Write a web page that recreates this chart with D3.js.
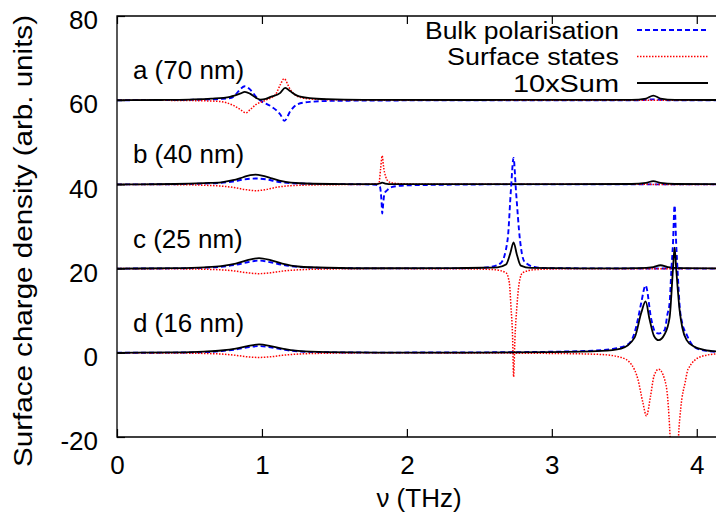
<!DOCTYPE html>
<html>
<head>
    <title>Surface charge density spectra</title>
    <script src="https://d3js.org/d3.v7.min.js"></script>
    <style>
        body {
            margin: 0;
            background: #fff;
        }
        svg text {
            font-family: "Liberation Sans", Arial, Helvetica, sans-serif;
            fill: #000;
        }
        .curve {
            fill: none;
        }
    </style>
</head>
<body>
    <div id="chart"></div>

    <script>
        // ---- data (values relative to each panel's offset) ----
        const panelLabels = ["a (70 nm)", "b (40 nm)", "c (25 nm)", "d (16 nm)"];
        const panelOffsets = [60, 40, 20, 0];
        const seriesNames = ["Bulk polarisation", "Surface states", "10xSum"];
        const xTicks = [0, 1, 2, 3, 4];
        const yTicks = [-20, 0, 20, 40, 60, 80];

        const bulk70 = [[0,0],[0.4,0.05],[0.6,0.15],[0.71,0.3],[0.79,0.55],[0.82,1.4],[0.853,2.7],[0.882,3.3],[0.92,2.5],[0.96,0.8],[0.99,-0.1],[1.06,-1.4],[1.127,-3.4],[1.155,-4.9],[1.196,-2.6],[1.243,-1.0],[1.33,-0.4],[1.5,-0.15],[2.0,-0.05],[3.6,0],[3.7,0.2],[3.8,0],[4.15,0]];
        const surface70 = [[0,0],[0.4,-0.05],[0.6,-0.15],[0.71,-0.3],[0.8,-1.2],[0.85,-2.2],[0.889,-3.0],[0.92,-2.2],[0.96,-1.0],[1.02,-0.1],[1.093,1.35],[1.127,3.7],[1.152,5.1],[1.196,2.5],[1.243,0.95],[1.33,0.3],[1.5,0.1],[2.0,0],[4.15,0]];
        const sum70 = [[0,0],[0.3,0.05],[0.5,0.15],[0.65,0.35],[0.78,0.8],[0.853,1.6],[0.882,2.0],[0.92,1.5],[0.96,0.55],[0.99,0.16],[1.026,0.3],[1.06,0.8],[1.127,1.74],[1.16,2.93],[1.196,2.1],[1.243,1.1],[1.33,0.5],[1.45,0.24],[1.7,0.1],[2.5,0.05],[3.55,0.1],[3.65,0.4],[3.7,1.1],[3.75,0.4],[3.85,0.1],[4.15,0.05]];

        const bulk40 = [[0,0],[0.4,0.05],[0.6,0.2],[0.72,0.4],[0.8,0.7],[0.88,1.2],[0.956,1.4],[1.03,1.2],[1.1,0.7],[1.2,0.3],[1.4,0.1],[1.7,0.02],[1.79,-0.1],[1.814,-0.6],[1.825,-4.0],[1.83,-6.9],[1.838,-4.0],[1.846,-2.1],[1.865,-1.35],[1.9,-0.6],[1.98,-0.25],[2.2,-0.1],[2.6,0],[4.15,0]];
        const surface40 = [[0,0],[0.4,-0.05],[0.6,-0.2],[0.72,-0.4],[0.8,-0.7],[0.88,-1.2],[0.956,-1.5],[1.03,-1.2],[1.1,-0.7],[1.2,-0.3],[1.4,-0.1],[1.7,0],[1.807,0.2],[1.818,3.5],[1.83,6.8],[1.838,4.5],[1.846,2.8],[1.876,0.6],[1.93,0.2],[2.1,0.05],[4.15,0]];
        const sum40 = [[0,0],[0.4,0.1],[0.6,0.3],[0.72,0.5],[0.8,1.0],[0.87,1.7],[0.92,2.2],[0.956,2.3],[1.0,2.1],[1.06,1.5],[1.12,0.9],[1.2,0.4],[1.35,0.15],[1.6,0.05],[1.79,0.05],[1.82,0.3],[1.83,0.4],[1.85,0.2],[1.9,0.05],[2.5,0.05],[3.55,0.1],[3.65,0.35],[3.7,0.8],[3.75,0.35],[3.85,0.1],[4.15,0.05]];

        const bulk25 = [[0,0],[0.4,0.05],[0.6,0.2],[0.72,0.45],[0.82,0.9],[0.9,1.5],[0.98,1.9],[1.06,1.5],[1.14,0.9],[1.25,0.4],[1.45,0.15],[1.8,0.05],[2.3,0.05],[2.487,0.15],[2.58,0.4],[2.649,1.35],[2.695,6.9],[2.718,18.8],[2.736,26.3],[2.752,18.8],[2.78,6.9],[2.81,1.7],[2.879,0.4],[2.97,0.1],[3.3,0.05],[4.15,0]];
        const surface25 = [[0,0],[0.4,-0.05],[0.6,-0.15],[0.72,-0.3],[0.82,-0.6],[0.9,-1.0],[0.98,-1.2],[1.06,-1.0],[1.14,-0.6],[1.25,-0.3],[1.45,-0.1],[1.8,0],[2.4,-0.05],[2.603,-0.25],[2.684,-1.0],[2.707,-3.4],[2.718,-9],[2.73,-17],[2.736,-25.7],[2.745,-17],[2.759,-9],[2.775,-3.4],[2.798,-1.0],[2.879,-0.25],[3.1,-0.05],[4.15,0]];
        const sum25 = [[0,0],[0.4,0.1],[0.6,0.3],[0.72,0.6],[0.82,1.2],[0.9,2.0],[0.98,2.5],[1.06,2.0],[1.14,1.2],[1.25,0.5],[1.45,0.2],[1.8,0.08],[2.3,0.1],[2.526,0.2],[2.626,0.3],[2.684,0.95],[2.714,3.7],[2.736,6.25],[2.759,3.3],[2.786,0.7],[2.855,0.15],[3.2,0.05],[3.6,0.1],[3.7,0.35],[3.75,0.8],[3.8,0.35],[3.9,0.1],[4.15,0.05]];

        const bulk16 = [[0,0],[0.4,0.05],[0.6,0.15],[0.72,0.4],[0.82,0.8],[0.9,1.3],[0.98,1.6],[1.06,1.3],[1.14,0.8],[1.25,0.35],[1.45,0.12],[1.8,0.05],[2.5,0.1],[3.0,0.25],[3.34,0.6],[3.43,1.0],[3.525,2.0],[3.571,4.8],[3.594,8.0],[3.617,11.9],[3.647,16.0],[3.686,8.0],[3.709,5.2],[3.737,4.6],[3.778,5.4],[3.797,9],[3.813,12],[3.825,19.8],[3.836,26],[3.847,35],[3.858,26],[3.87,18],[3.882,11.1],[3.9,7],[3.928,4.5],[3.97,1.8],[4.02,0.8],[4.15,0.2]];
        const surface16 = [[0,0],[0.4,-0.05],[0.6,-0.15],[0.72,-0.3],[0.82,-0.6],[0.9,-0.95],[0.98,-1.1],[1.06,-0.95],[1.14,-0.6],[1.25,-0.3],[1.45,-0.1],[1.8,0],[2.5,-0.05],[3.0,-0.15],[3.34,-0.4],[3.478,-1.1],[3.55,-2.8],[3.594,-6.3],[3.628,-11.8],[3.653,-15],[3.681,-10.3],[3.705,-5.5],[3.737,-3.9],[3.778,-6.3],[3.80,-11],[3.816,-20],[3.83,-32],[3.845,-40],[3.86,-32],[3.874,-20],[3.89,-13],[3.92,-7],[3.94,-3.9],[4.03,-0.9],[4.15,-0.2]];
        const sum16 = [[0,0],[0.4,0.1],[0.6,0.3],[0.72,0.55],[0.82,1.0],[0.9,1.6],[0.98,2.0],[1.06,1.6],[1.14,1.0],[1.25,0.45],[1.45,0.15],[1.8,0.05],[2.5,0.05],[3.0,0.15],[3.34,0.45],[3.478,1.0],[3.571,3.6],[3.617,9.5],[3.647,12.2],[3.674,8.0],[3.705,4.0],[3.737,3.0],[3.778,4.4],[3.813,8.5],[3.836,20],[3.847,25],[3.858,20],[3.882,10],[3.9,6],[3.93,3],[3.98,1.5],[4.05,0.7],[4.15,0.3]];

        const bulkSeries = [bulk70, bulk40, bulk25, bulk16];
        const surfaceSeries = [surface70, surface40, surface25, surface16];
        const sumSeries = [sum70, sum40, sum25, sum16];

        // ---- layout ----
        const W = 716, H = 522;
        const margin = { top: 16, right: -2, bottom: 85, left: 117 },
              width = W - margin.left - margin.right,
              height = H - margin.top - margin.bottom;

        const svg = d3.select("#chart")
                      .append("svg")
                      .attr("width", W)
                      .attr("height", H);

        svg.append("rect").attr("width", W).attr("height", H).attr("fill", "#fff");

        const g = svg.append("g")
                     .attr("transform", `translate(${margin.left},${margin.top})`);

        const x = d3.scaleLinear().domain([0, 4.1465]).range([0, width]);
        const y = d3.scaleLinear().domain([-20, 80]).range([height, 0]);

        const styles = [
            { color: "#0000ff", width: 1.9, dash: "5,3" },
            { color: "#ff0000", width: 1.5, dash: "1.5,1.5" },
            { color: "#000000", width: 1.8, dash: null }
        ];

        g.append("clipPath").attr("id", "clip")
         .append("rect").attr("width", width).attr("height", height);

        const plot = g.append("g").attr("clip-path", "url(#clip)");

        panelOffsets.forEach((off, i) => {
            const line = d3.line()
                           .x(d => x(d[0]))
                           .y(d => y(off + d[1]))
                           .curve(d3.curveMonotoneX);
            [bulkSeries[i], surfaceSeries[i], sumSeries[i]].forEach((s, k) => {
                plot.append("path")
                    .attr("class", "curve")
                    .attr("d", line(s))
                    .attr("stroke", styles[k].color)
                    .attr("stroke-width", styles[k].width)
                    .attr("stroke-dasharray", styles[k].dash);
            });
            g.append("text")
             .attr("x", x(0.11))
             .attr("y", y(off + 5))
             .style("font-size", "26px")
             .text(panelLabels[i]);
        });

        // axes with inward ticks, plain hyphen minus in labels
        const plain = d => String(d);

        const yAxis = g.append("g")
                       .call(d3.axisLeft(y).tickValues(yTicks).tickFormat(plain)
                               .tickSizeInner(-8).tickSizeOuter(0).tickPadding(19));
        yAxis.selectAll("text").attr("dy", "0.49em").style("font-size", "26px");

        const xAxis = g.append("g")
                       .attr("transform", `translate(0,${height})`)
                       .call(d3.axisBottom(x).tickValues(xTicks).tickFormat(plain)
                               .tickSizeInner(-8).tickSizeOuter(0).tickPadding(19));
        xAxis.selectAll("text").style("font-size", "26px");

        const topAxis = g.append("g")
                         .call(d3.axisTop(x).tickValues(xTicks).tickSizeInner(-8).tickSizeOuter(0).tickFormat(""));

        [yAxis, xAxis, topAxis].forEach(a => {
            a.select(".domain").remove();
            a.selectAll("line").attr("stroke", "#000").attr("stroke-width", 1.2);
            a.selectAll("text").style("font-family", "'Liberation Sans', Arial, sans-serif");
        });

        // border (right edge falls outside the picture)
        g.append("path")
         .attr("d", `M${width},0H0V${height}H${width}`)
         .attr("fill", "none")
         .attr("stroke", "#000")
         .attr("stroke-width", 1.3);

        // axis titles
        svg.append("text")
           .attr("x", 419)
           .attr("y", 507)
           .attr("text-anchor", "middle")
           .style("font-size", "26px")
           .text("ν (THz)");

        svg.append("text")
           .attr("transform", "translate(32,241) rotate(-90)")
           .attr("text-anchor", "middle")
           .attr("textLength", 452)
           .attr("lengthAdjust", "spacingAndGlyphs")
           .style("font-size", "25px")
           .text("Surface charge density (arb. units)");

        // legend
        const legend = svg.selectAll(".legend")
                          .data(seriesNames)
                          .enter()
                          .append("g")
                          .attr("class", "legend")
                          .attr("transform", (d, i) => `translate(0,${30 + i * 26.5})`);

        legend.append("text")
              .attr("x", 619)
              .attr("y", 8.5)
              .attr("text-anchor", "end")
              .attr("textLength", (d, i) => [194, 172, 106][i])
              .attr("lengthAdjust", "spacingAndGlyphs")
              .style("font-size", "23.5px")
              .text(d => d);

        legend.append("line")
              .attr("x1", 637)
              .attr("x2", 708)
              .attr("stroke", (d, i) => styles[i].color)
              .attr("stroke-width", (d, i) => styles[i].width)
              .attr("stroke-dasharray", (d, i) => styles[i].dash);
    </script>
</body>
</html>
